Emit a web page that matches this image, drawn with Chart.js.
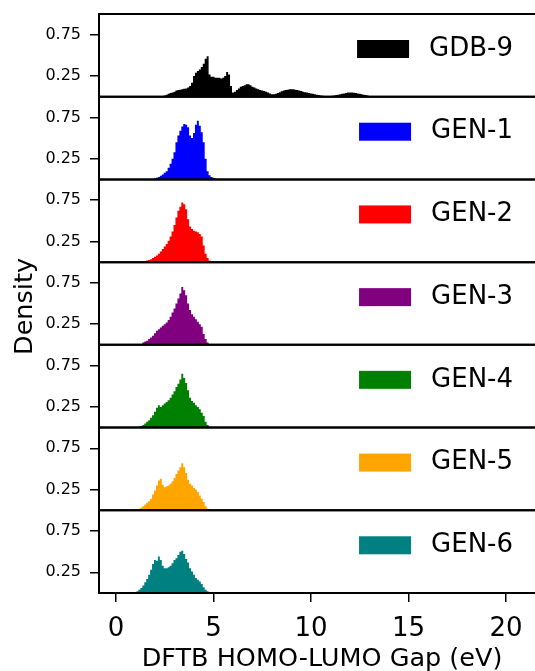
<!DOCTYPE html>
<html>
<head>
<meta charset="utf-8">
<script src="https://cdn.jsdelivr.net/npm/chart.js@4/dist/chart.umd.min.js"></script>
<style>
  html, body { margin: 0; padding: 0; background: #fff; overflow: hidden; }
  canvas { display: block; }
</style>
</head>
<body>
<canvas id="chart" width="545" height="671"></canvas>
<script>
// histogram bins are 0.1 eV wide, each series starts at its own first bin
const binWidth = 0.1;

const seriesNames = ["GDB-9", "GEN-1", "GEN-2", "GEN-3", "GEN-4", "GEN-5", "GEN-6"];
const seriesColors = ["#000000", "#0000ff", "#ff0000", "#800080", "#008000", "#ffa500", "#008080"];
const seriesStarts = [2.3, 2.0, 1.5, 1.3, 1.2, 1.1, 1.0];

const gdb9 = [0.005, 0.01, 0.015, 0.025, 0.035, 0.045, 0.05, 0.06, 0.075, 0.08,
  0.085, 0.09, 0.095, 0.10, 0.11, 0.13, 0.17, 0.25, 0.29, 0.31,
  0.33, 0.36, 0.40, 0.46, 0.49, 0.27, 0.24, 0.24, 0.23, 0.23,
  0.23, 0.22, 0.23, 0.25, 0.30, 0.27, 0.13, 0.05, 0.06, 0.08,
  0.10, 0.12, 0.13, 0.14, 0.15, 0.15, 0.14, 0.12, 0.11, 0.10,
  0.09, 0.08, 0.075, 0.07, 0.06, 0.05, 0.04, 0.03, 0.03, 0.035,
  0.045, 0.055, 0.065, 0.075, 0.08, 0.085, 0.09, 0.09, 0.09, 0.085,
  0.08, 0.075, 0.07, 0.06, 0.055, 0.05, 0.045, 0.04, 0.035, 0.03,
  0.025, 0.02, 0.015, 0.012, 0.01, 0.01, 0.01, 0.01, 0.012, 0.015,
  0.02, 0.025, 0.03, 0.035, 0.04, 0.045, 0.05, 0.05, 0.05, 0.048,
  0.045, 0.04, 0.035, 0.03, 0.025, 0.02, 0.015, 0.01, 0.005, 0.003];
const gen1 = [0.01, 0.02, 0.03, 0.045, 0.06, 0.08, 0.10, 0.14, 0.19, 0.25,
  0.33, 0.45, 0.53, 0.59, 0.64, 0.67, 0.66, 0.63, 0.53, 0.50,
  0.56, 0.66, 0.71, 0.65, 0.57, 0.45, 0.25, 0.10, 0.05, 0.03,
  0.02, 0.01, 0.005];
const gen2 = [0.015, 0.02, 0.025, 0.035, 0.05, 0.065, 0.08, 0.10, 0.13, 0.16,
  0.19, 0.22, 0.26, 0.31, 0.37, 0.45, 0.54, 0.62, 0.67, 0.72,
  0.70, 0.64, 0.52, 0.43, 0.40, 0.38, 0.37, 0.36, 0.34, 0.31,
  0.20, 0.10, 0.05, 0.02, 0.005];
const gen3 = [0.01, 0.03, 0.04, 0.05, 0.07, 0.09, 0.11, 0.14, 0.17, 0.19,
  0.21, 0.23, 0.25, 0.27, 0.30, 0.34, 0.39, 0.44, 0.50, 0.56,
  0.62, 0.70, 0.66, 0.60, 0.50, 0.42, 0.37, 0.34, 0.31, 0.28,
  0.25, 0.22, 0.13, 0.07, 0.03, 0.01];
const gen4 = [0.01, 0.02, 0.03, 0.05, 0.07, 0.09, 0.12, 0.15, 0.19, 0.24,
  0.27, 0.25, 0.27, 0.29, 0.31, 0.33, 0.36, 0.40, 0.44, 0.49,
  0.53, 0.58, 0.65, 0.60, 0.54, 0.45, 0.36, 0.32, 0.30, 0.27,
  0.25, 0.22, 0.18, 0.14, 0.07, 0.03, 0.01];
const gen5 = [0.01, 0.02, 0.03, 0.05, 0.07, 0.09, 0.11, 0.14, 0.19, 0.24,
  0.30, 0.36, 0.38, 0.31, 0.28, 0.29, 0.30, 0.32, 0.35, 0.39,
  0.44, 0.48, 0.52, 0.57, 0.52, 0.45, 0.37, 0.32, 0.30, 0.27,
  0.25, 0.22, 0.18, 0.14, 0.10, 0.05, 0.02, 0.005];
const gen6 = [0.01, 0.02, 0.04, 0.06, 0.09, 0.13, 0.17, 0.22, 0.28, 0.35,
  0.40, 0.39, 0.44, 0.40, 0.33, 0.30, 0.30, 0.31, 0.33, 0.36,
  0.40, 0.42, 0.46, 0.50, 0.51, 0.47, 0.41, 0.37, 0.30, 0.26,
  0.22, 0.18, 0.16, 0.14, 0.11, 0.07, 0.04, 0.02, 0.005];

const seriesValues = [gdb9, gen1, gen2, gen3, gen4, gen5, gen6];

const xTicks = [0, 5, 10, 15, 20];
const yTicks = [0.25, 0.75];

const FONT = "'DejaVu Sans', sans-serif";

function histPoints(start, values) {
  const pts = [{x: start - binWidth, y: 0}];
  values.forEach((v, i) => pts.push({x: start + i * binWidth, y: v}));
  pts.push({x: start + values.length * binWidth, y: 0});
  return pts;
}

const datasets = seriesNames.map((name, i) => ({
  label: name,
  data: histPoints(seriesStarts[i], seriesValues[i]),
  yAxisID: "y" + i,
  backgroundColor: seriesColors[i],
  borderColor: seriesColors[i],
  borderWidth: 0,
  pointRadius: 0,
  stepped: "middle",
  fill: "origin",
}));

// stacked y axes: the last defined ends up on top, so add them bottom-up
const scales = {
  x: {
    type: "linear",
    min: -0.87,
    max: 22,
    afterBuildTicks: s => { s.ticks = xTicks.map(v => ({value: v})); },
    afterFit: s => { s.height = 78; s.paddingLeft = 0; s.paddingRight = 0; },
    border: {display: false},
    grid: {drawOnChartArea: false, drawTicks: true, tickLength: 9, color: "#000", lineWidth: 1.5},
    ticks: {color: "#000", font: {family: FONT, size: 26}, padding: 12, maxRotation: 0},
    title: {display: true, text: "DFTB HOMO-LUMO Gap (eV)", color: "#000",
      font: {family: FONT, size: 25.5, lineHeight: 0.9}, padding: {top: 0, bottom: 0}},
  },
};
for (let i = seriesNames.length - 1; i >= 0; i--) {
  scales["y" + i] = {
    type: "linear",
    position: "left",
    stack: "panels",
    stackWeight: 1,
    min: 0,
    max: 1,
    afterBuildTicks: s => { s.ticks = yTicks.map(v => ({value: v})); },
    afterFit: s => { s.width = 99; s.paddingTop = 0; s.paddingBottom = 0; },
    border: {display: true, color: "#000", width: 2},
    grid: {drawOnChartArea: false, drawTicks: true, tickLength: 9, color: "#000", lineWidth: 1.5},
    ticks: {color: "#000", font: {family: FONT, size: 16}, padding: 9,
      callback: v => v.toFixed(2)},
  };
}

const panelDecor = {
  id: "panelDecor",
  afterDatasetsDraw(chart) {
    const {ctx, chartArea} = chart;
    ctx.save();
    // horizontal spines of every panel
    ctx.strokeStyle = "#000";
    ctx.lineWidth = 2;
    seriesNames.forEach((name, i) => {
      const s = chart.scales["y" + i];
      [s.top, s.bottom].forEach(y => {
        ctx.beginPath();
        ctx.moveTo(chartArea.left - 1, y);
        ctx.lineTo(chartArea.right, y);
        ctx.stroke();
      });
    });
    // per-panel legend, upper right
    ctx.font = "26px " + FONT;
    ctx.textBaseline = "middle";
    ctx.textAlign = "right";
    const textRight = chartArea.right - 32;
    seriesNames.forEach((name, i) => {
      const s = chart.scales["y" + i];
      const cy = s.top + 35;
      const w = ctx.measureText(name).width;
      const rectRight = textRight - w - 20;
      ctx.fillStyle = seriesColors[i];
      ctx.fillRect(rectRight - 52, cy - 9, 52, 18);
      ctx.fillStyle = "#000";
      ctx.fillText(name, textRight, cy);
    });
    // shared y label
    ctx.translate(31.5, (chartArea.top + chartArea.bottom) / 2 + 3);
    ctx.rotate(-Math.PI / 2);
    ctx.textAlign = "center";
    ctx.textBaseline = "alphabetic";
    ctx.font = "25.5px " + FONT;
    ctx.fillText("Density", 0, 0);
    ctx.restore();
  },
};

new Chart(document.getElementById("chart"), {
  type: "line",
  data: {datasets},
  options: {
    responsive: false,
    animation: false,
    devicePixelRatio: 1,
    layout: {padding: {top: 14, left: 0, right: 0, bottom: 0}},
    plugins: {legend: {display: false}, tooltip: {enabled: false}},
    scales,
  },
  plugins: [panelDecor],
});
</script>
</body>
</html>
